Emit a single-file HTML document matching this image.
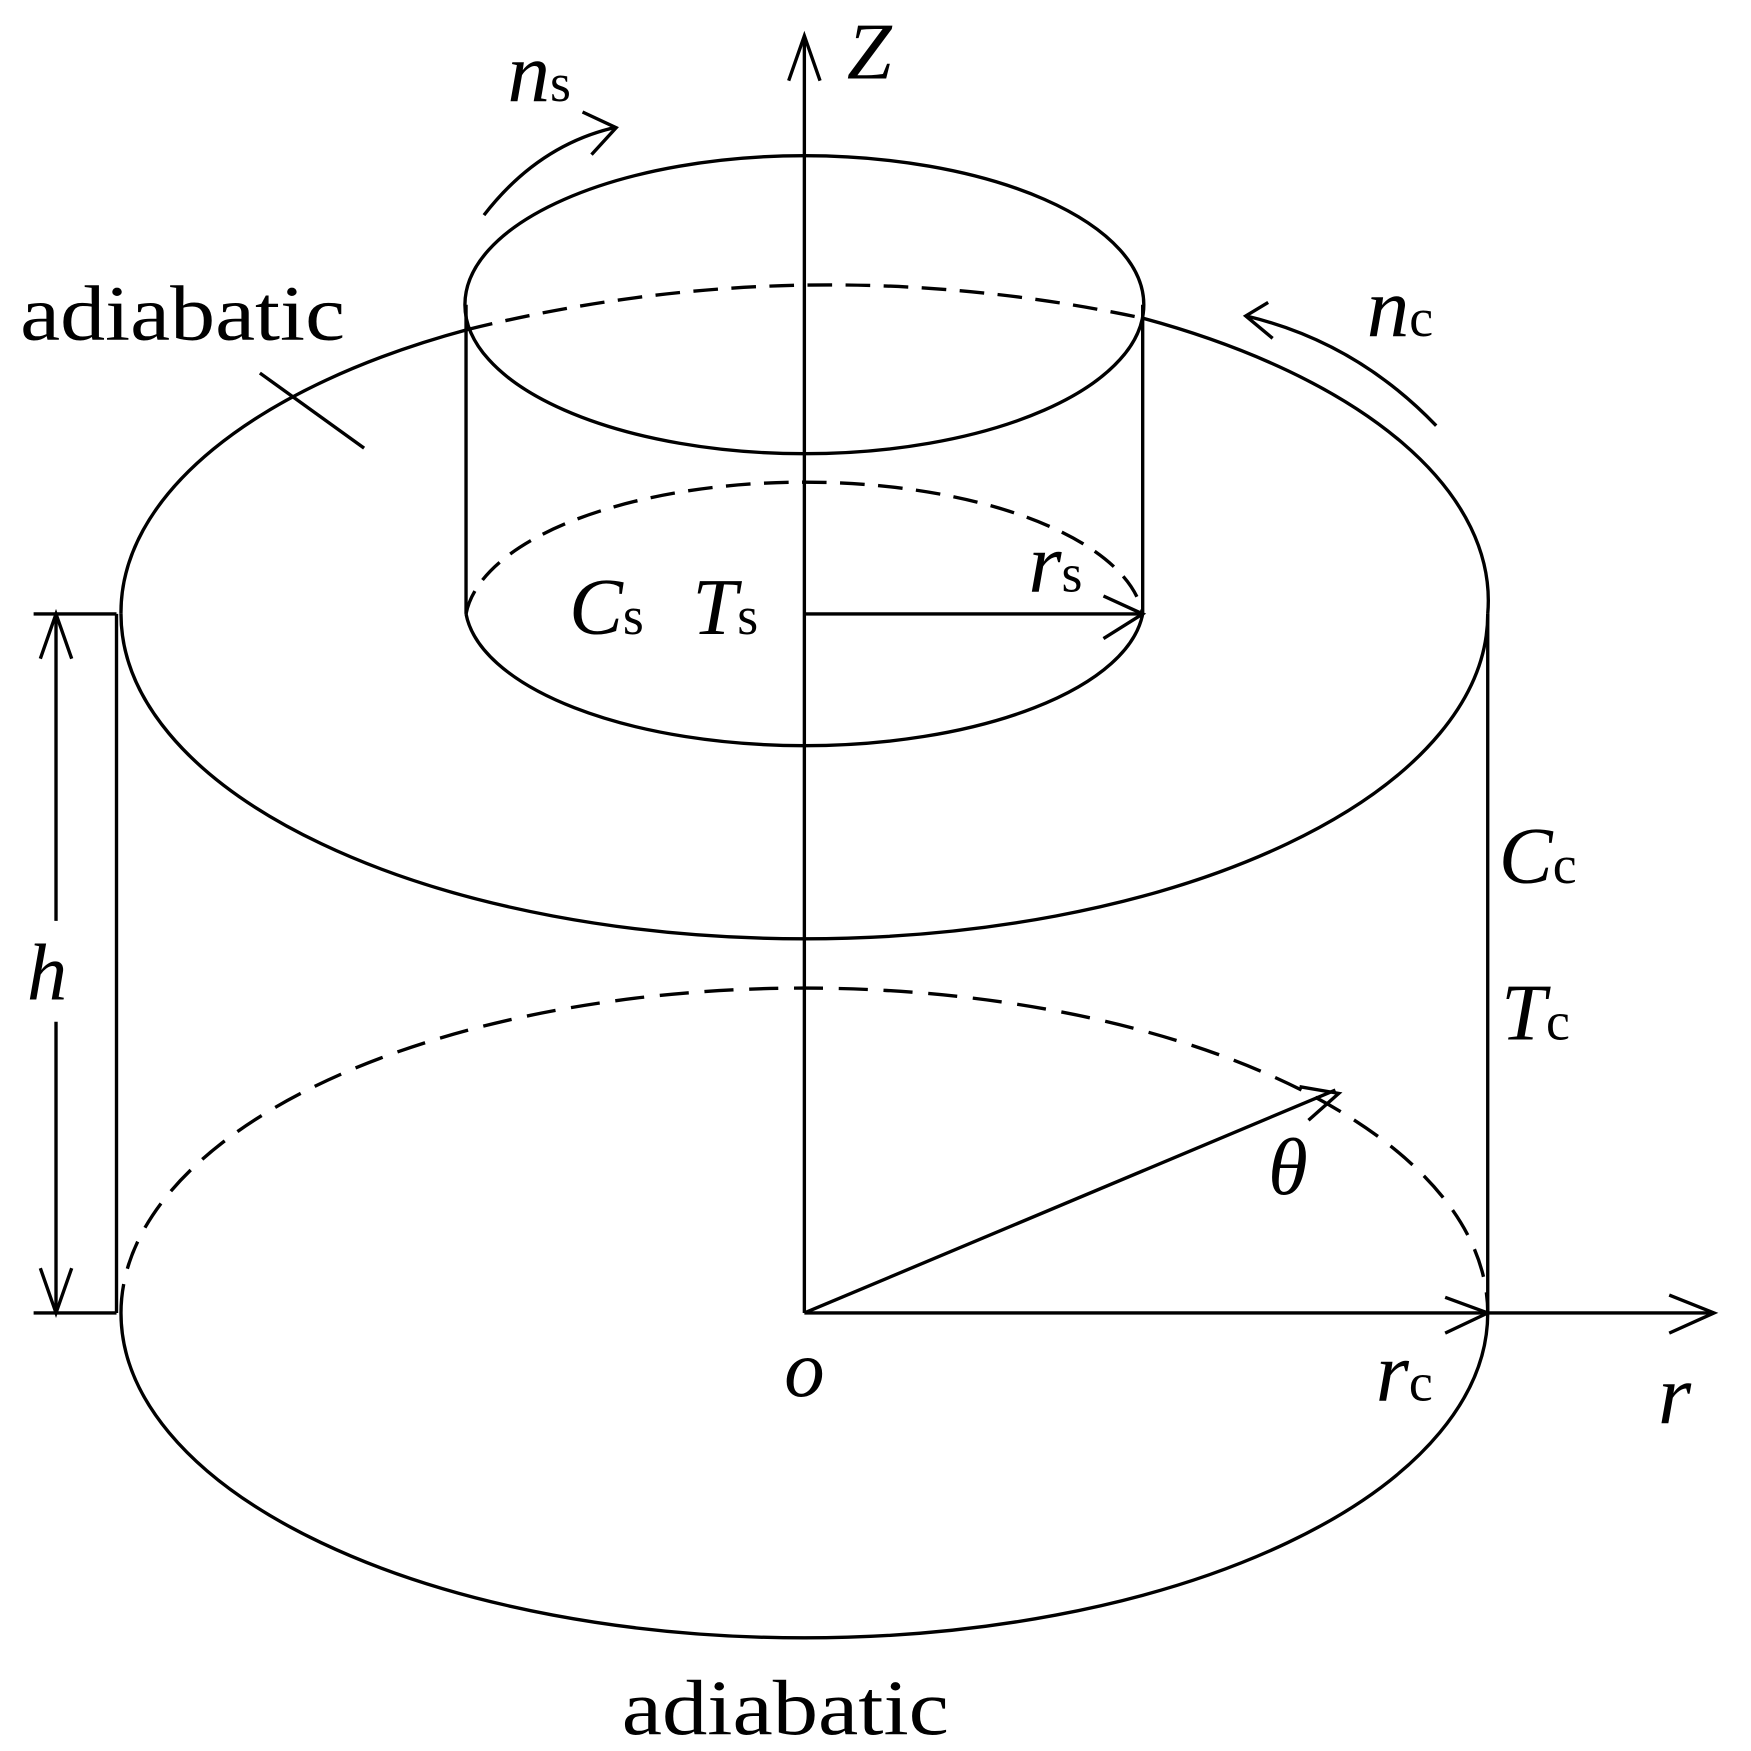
<!DOCTYPE html>
<html><head><style>html,body{margin:0;padding:0;background:#fff}svg{display:block}</style></head>
<body>
<svg width="1751" height="1751" viewBox="0 0 1563 1563" xmlns="http://www.w3.org/2000/svg" font-family="'Liberation Serif',serif">
<g fill="none" stroke="#000" stroke-width="3">
<path d="M108,548 A610,290 0 0 0 1328,548"/>
<path d="M108,548 A610,290 0 0 1 418,294"/>
<path d="M1020,284 A610,290 0 0 1 1328,548"/>
<path d="M418,294 Q718,220 1020,284" stroke-dasharray="22,12"/>
<path d="M108,1172 A610,290 0 0 0 1328,1172"/>
<path d="M108,1172 A610,290 0 0 1 1328,1172" stroke-dasharray="26,14"/>
<line x1="104" y1="548" x2="104" y2="1172"/>
<line x1="1328" y1="548" x2="1328" y2="1172"/>
<ellipse cx="718" cy="272" rx="303" ry="133"/>
<path d="M416,548 A303,128 0 0 0 1020,548"/>
<path d="M416,548 A303,128 0 0 1 1020,548" stroke-dasharray="22,12"/>
<line x1="416" y1="272" x2="416" y2="548"/>
<line x1="1020" y1="272" x2="1020" y2="548"/>
<line x1="718" y1="32" x2="718" y2="1172"/>
<path d="M704,72 L718,32 L732,72"/>
<line x1="718" y1="548" x2="1020" y2="548"/>
<path d="M985,532 L1020,548 L985,570"/>
<line x1="718" y1="1172" x2="1530" y2="1172"/>
<path d="M1290,1158 L1328,1172 L1290,1190"/>
<path d="M1490,1156 L1530,1172 L1490,1190"/>
<line x1="718" y1="1172" x2="1192" y2="973"/>
<path d="M1160,970 L1195,976 L1168,1000"/>
<line x1="30" y1="548" x2="104" y2="548"/>
<line x1="30" y1="1172" x2="104" y2="1172"/>
<line x1="50" y1="548" x2="50" y2="822"/>
<line x1="50" y1="912" x2="50" y2="1172"/>
<path d="M36,588 L50,548 L64,588"/>
<path d="M36,1132 L50,1172 L64,1132"/>
<line x1="232" y1="333" x2="325" y2="400"/>
<path d="M432,192 Q480,130 548,114"/>
<path d="M520,100 L550,114 L528,138"/>
<path d="M1282,380 Q1210,305 1112,282"/>
<path d="M1132,270 L1112,282 L1136,302"/>
</g>
<g fill="#000" font-size="70">
<text x="18" y="303" textLength="290" lengthAdjust="spacingAndGlyphs">adiabatic</text>
<text x="555" y="1548" textLength="292" lengthAdjust="spacingAndGlyphs">adiabatic</text>
<text x="453" y="90" font-style="italic" font-size="76">n<tspan font-style="normal" font-size="48">s</tspan></text>
<text x="1220" y="300" font-style="italic" font-size="76">n<tspan font-style="normal" font-size="48">c</tspan></text>
<text x="756" y="70" font-style="italic" font-size="72">Z</text>
<text x="508" y="566" font-style="italic" font-size="72">C<tspan font-style="normal" font-size="48">s</tspan></text>
<text x="618" y="566" font-style="italic" font-size="72">T<tspan font-style="normal" font-size="48">s</tspan></text>
<text x="918" y="528" font-style="italic" font-size="76">r<tspan font-style="normal" font-size="48">s</tspan></text>
<text x="1338" y="788" font-style="italic" font-size="72">C<tspan font-style="normal" font-size="48">c</tspan></text>
<text x="1340" y="928" font-style="italic" font-size="72">T<tspan font-style="normal" font-size="48">c</tspan></text>
<text x="1228" y="1250" font-style="italic" font-size="76">r<tspan font-style="normal" font-size="48">c</tspan></text>
<text x="1480" y="1270" font-style="italic" font-size="76">r</text>
<text x="700" y="1246" font-style="italic" font-size="72">o</text>
<text x="1132" y="1066" font-style="italic" font-size="72">θ</text>
<text x="24" y="892" font-style="italic" font-size="72">h</text>
</g>
</svg>
</body></html>
